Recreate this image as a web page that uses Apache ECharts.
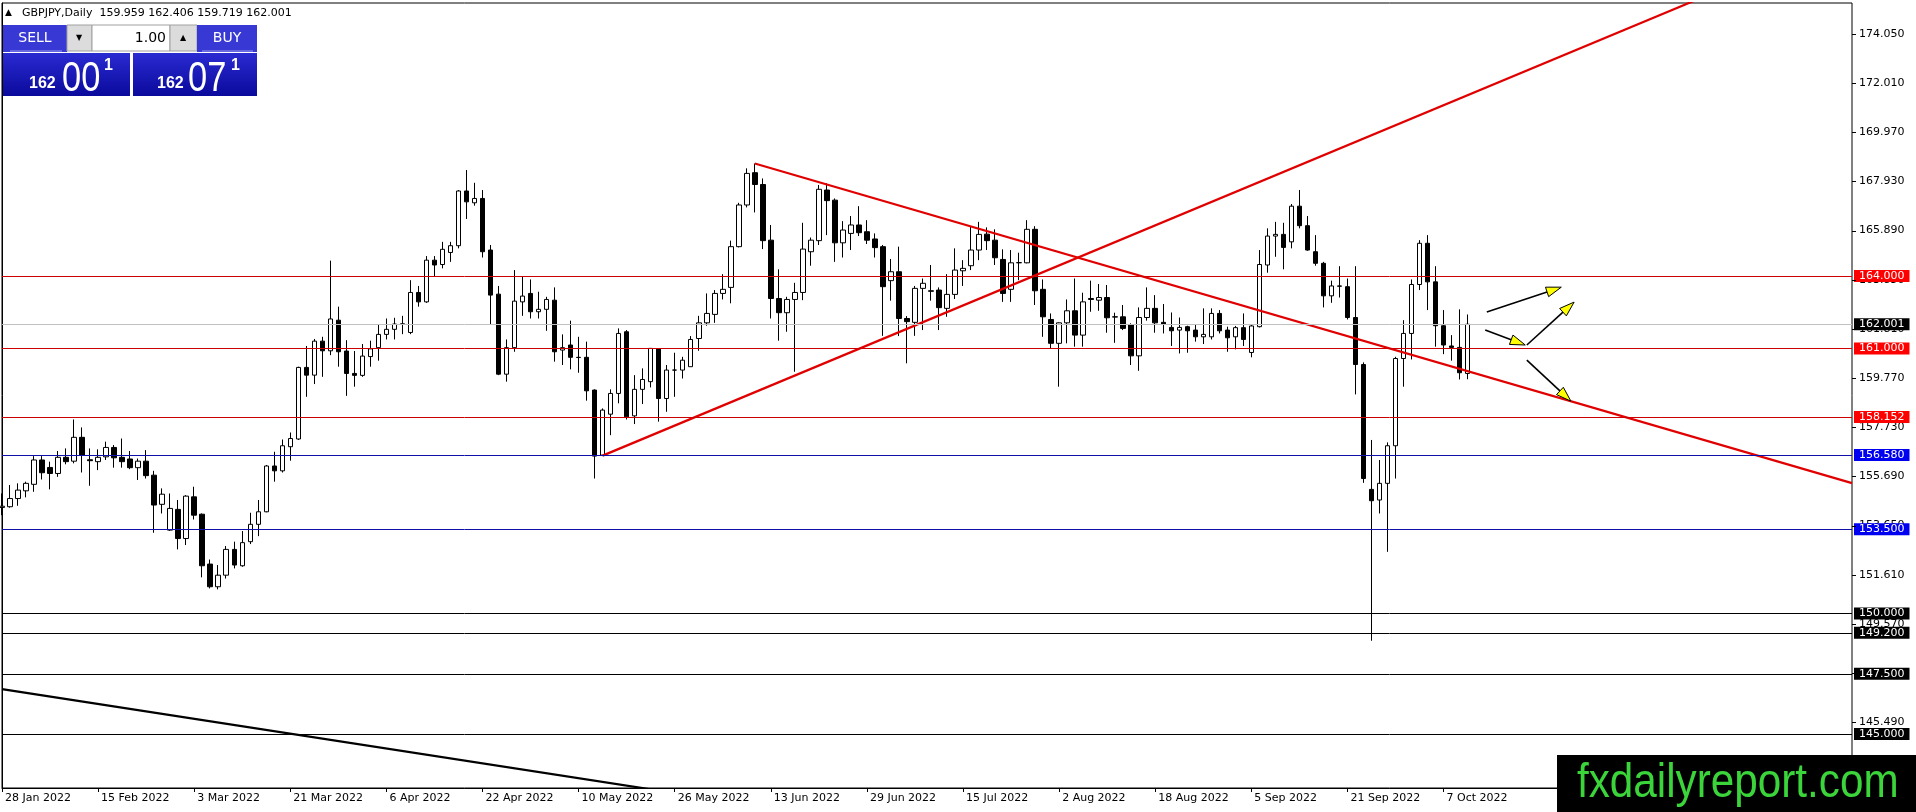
<!DOCTYPE html>
<html>
<head>
<meta charset="utf-8">
<title>GBPJPY Daily</title>
<script src="https://cdn.jsdelivr.net/npm/echarts@6/dist/echarts.min.js"></script>
<style>
  html, body { margin: 0; padding: 0; background: #fff; }
  #main { width: 1916px; height: 812px; }
</style>
</head>
<body>
<div id="main"></div>
<script>
// GBPJPY daily, one bar per weekday from 28 Jan 2022 to 12 Oct 2022
var opens = [154.40,154.43,154.77,155.09,155.36,156.37,156.06,155.81,156.48,156.32,157.31,156.38,156.30,156.50,156.89,156.48,156.41,156.05,156.32,155.74,
  154.53,153.46,154.32,153.11,154.84,154.12,152.05,151.11,151.59,152.66,151.98,152.98,153.70,154.22,156.12,155.92,156.92,157.24,160.21,159.89,
  161.30,160.90,162.17,160.89,159.96,159.88,160.66,161.03,161.58,161.79,162.00,161.66,163.32,162.93,164.66,164.48,164.98,165.26,167.53,167.04,
  167.22,165.08,163.25,159.93,161.03,162.93,163.28,162.52,162.62,163.00,160.93,161.14,160.63,160.63,159.27,156.57,158.27,159.13,161.69,158.20,
  159.30,159.62,160.97,158.92,160.10,160.10,160.24,161.41,162.06,162.41,163.28,163.53,165.22,166.95,168.29,167.80,165.49,163.07,162.48,163.03,
  163.32,165.01,165.47,167.57,167.15,165.38,165.77,166.12,165.84,165.54,165.22,163.81,164.18,162.24,162.08,163.49,163.39,163.42,162.66,163.24,
  164.22,164.43,165.08,165.74,165.49,164.69,163.45,164.55,164.55,165.94,163.45,162.20,161.21,162.06,162.56,161.55,163.07,163.00,163.11,162.31,
  162.31,161.97,160.69,162.28,162.66,162.08,161.87,161.76,161.90,161.76,161.48,161.48,162.45,161.76,161.48,161.86,160.83,161.90,164.46,165.66,
  165.73,165.42,166.90,166.09,165.01,164.53,163.18,163.59,163.56,162.28,160.33,155.15,154.71,155.40,156.96,160.58,161.62,163.65,165.36,163.76,
  161.94,161.10,161.04,159.959];
var highs = [154.98,155.33,155.40,155.47,156.53,156.53,156.30,156.74,156.85,158.05,157.72,156.85,156.81,157.13,156.99,157.26,156.74,156.43,156.78,155.92,
  155.19,154.98,154.71,154.91,155.26,154.15,152.24,152.01,152.80,152.98,153.42,154.18,154.71,156.16,156.71,157.22,157.51,160.24,161.10,161.39,
  161.48,164.64,162.73,161.34,160.89,161.18,161.32,161.97,162.24,162.27,162.35,163.83,163.59,164.83,164.83,165.42,165.42,167.57,168.40,167.87,
  167.57,165.29,163.59,161.37,164.25,163.97,163.86,163.35,163.14,163.53,161.58,162.15,161.48,161.28,159.30,158.51,159.30,161.83,161.76,159.89,
  160.17,161.00,161.00,160.31,160.82,160.65,161.51,162.35,163.28,163.42,164.08,165.47,167.04,168.47,168.67,168.05,166.12,164.28,163.14,163.72,
  166.21,165.60,167.78,167.85,167.22,166.28,166.49,166.90,166.32,165.77,165.29,164.71,165.22,162.34,163.59,163.90,164.46,163.53,164.08,165.15,
  164.66,166.05,166.25,166.02,165.94,165.11,165.08,164.97,166.32,166.07,163.86,162.45,162.08,163.03,163.90,163.31,163.81,163.67,163.63,162.48,
  162.80,162.04,162.70,163.53,163.21,162.84,162.49,162.28,161.94,161.97,162.66,162.66,162.59,161.90,161.93,162.45,161.97,165.08,165.98,166.25,
  166.21,166.99,167.57,166.49,165.70,164.59,163.81,164.41,163.90,164.41,160.42,157.20,156.37,157.10,160.65,162.17,163.86,165.49,165.70,164.41,
  162.59,161.55,162.62,162.406];
var lows = [154.08,154.39,154.47,154.82,155.05,155.56,155.15,155.67,156.19,156.23,155.85,155.30,155.95,156.37,156.05,156.05,155.99,155.54,155.60,153.35,
  154.15,153.43,152.66,152.84,153.90,151.50,151.04,151.00,151.45,151.87,151.94,152.88,153.21,154.20,155.47,155.85,156.34,157.20,158.99,159.52,
  159.82,160.72,160.24,159.03,159.41,159.82,160.24,160.49,161.37,161.37,161.59,161.59,162.73,162.89,163.97,164.32,164.59,165.15,166.37,166.92,
  164.77,162.01,159.89,159.62,160.86,162.35,162.24,162.24,161.73,160.45,160.31,160.13,159.99,158.83,155.60,156.53,157.40,158.72,158.05,157.86,
  158.69,159.38,157.96,158.37,158.99,159.75,160.24,160.90,161.94,162.06,163.03,162.87,165.19,166.85,166.64,165.12,162.24,161.32,161.69,160.03,
  163.00,164.43,165.29,165.70,164.59,164.77,165.08,165.66,165.33,164.77,161.52,162.98,161.51,160.38,161.52,161.76,162.98,161.76,162.31,163.05,
  163.59,164.25,164.66,165.08,164.46,162.93,162.93,163.83,164.53,162.80,161.48,161.00,159.41,161.21,161.07,161.07,162.52,162.56,161.65,161.23,
  161.76,160.31,160.07,162.15,161.65,161.62,161.10,160.79,160.82,161.28,161.18,161.37,161.62,160.86,160.96,161.10,160.63,161.87,164.14,164.80,
  164.28,165.15,165.98,165.05,164.43,162.70,162.89,163.11,162.20,159.09,155.42,148.87,154.15,152.56,155.60,159.41,160.54,163.42,162.59,161.07,
  160.76,160.49,159.71,159.719];
var closes = [154.45,154.77,155.12,155.40,156.37,155.84,155.81,156.48,156.30,157.31,156.57,156.34,156.48,156.89,156.46,156.30,156.05,156.32,155.72,154.50,
  154.95,154.36,153.11,154.87,154.08,151.98,151.11,151.59,152.66,152.01,152.94,153.70,154.22,156.12,155.92,156.96,157.26,160.21,159.89,161.30,
  160.90,162.22,160.86,159.96,159.88,160.68,160.98,161.58,161.79,162.01,162.02,163.32,162.93,164.66,164.46,165.11,165.26,167.53,167.08,167.22,
  165.01,163.21,159.93,161.03,162.96,163.17,162.52,162.62,163.03,160.86,161.03,160.63,160.62,159.24,156.53,158.44,159.13,161.62,158.16,159.30,
  159.71,161.00,158.92,160.10,160.10,160.51,161.37,162.06,162.45,163.28,163.45,165.22,166.95,168.26,167.80,165.47,163.07,162.48,163.03,163.32,
  165.12,165.49,167.60,167.13,165.38,165.91,166.12,165.80,165.49,165.18,163.56,164.18,162.24,162.11,163.49,163.70,163.37,162.69,163.24,164.25,
  164.32,165.08,165.73,165.47,164.76,163.28,164.55,164.56,165.94,163.39,162.31,161.21,162.06,162.56,161.55,162.93,163.03,163.11,162.27,162.30,
  161.83,160.69,162.28,162.66,162.06,161.99,161.73,161.87,161.73,161.48,161.58,162.45,161.73,161.44,161.86,161.37,161.93,164.48,165.66,165.73,
  165.19,166.90,166.09,165.08,164.53,163.18,163.59,163.58,162.28,160.33,155.60,154.68,155.40,156.96,160.58,161.62,163.65,165.36,163.76,161.94,
  161.14,161.04,159.99,162.001];

// x axis date labels, one every 12 bars
var dateLabels = ['28 Jan 2022','15 Feb 2022','3 Mar 2022','21 Mar 2022','6 Apr 2022','22 Apr 2022','10 May 2022','26 May 2022',
  '13 Jun 2022','29 Jun 2022','15 Jul 2022','2 Aug 2022','18 Aug 2022','5 Sep 2022','21 Sep 2022','7 Oct 2022'];
var labelStep = 12;
var slotCount = 232; // bars plus empty space on the right

// price scale ticks
var yTicks = [145.49,147.53,149.57,151.61,153.65,155.69,157.73,159.77,161.81,163.85,165.89,167.93,169.97,172.01,174.05];
var yMin = 142.76, yMax = 175.33;

// drawn levels
var redLevels = [164.000, 161.000, 158.152];
var blueLevels = [156.580, 153.500];
var blackLevels = [150.000, 149.200, 147.500, 145.000];
var bidPrice = 162.001;

// trend lines [bar, price]
var trendDown = [[94, 168.67], [231, 155.41]];
var trendUp = [[75, 156.55], [231, 178.15]];
var trendLow = [[0, 146.86], [100, 141.73]];

// arrows [bar, price] start -> tip
var arrows = [
  [[185.4, 162.51], [194.7, 163.54]],
  [[185.2, 161.76], [190.2, 161.14]],
  [[190.4, 161.14], [196.3, 162.92]],
  [[190.4, 160.51], [195.9, 158.81]]
];

var chart = echarts.init(document.getElementById('main'));

var cats = [];
for (var i = 0; i < slotCount; i++) cats.push(String(i));

var candles = opens.map(function (o, i) { return [o, closes[i], lows[i], highs[i]]; });

function levelItems(list, lineColor, boxColor) {
  return list.map(function (v) {
    return {
      yAxis: v,
      lineStyle: { color: lineColor, width: 1, type: 'solid' },
      label: { backgroundColor: boxColor, formatter: v.toFixed(3) }
    };
  });
}

var levels = []
  .concat(levelItems([bidPrice], '#c0c0c0', '#000'))
  .concat(levelItems(redLevels, '#cc0000', '#ff0000'))
  .concat(levelItems(blueLevels, '#1010a8', '#0000f0'))
  .concat(levelItems(blackLevels, '#000', '#000'));

function showTick(index) {
  return index % labelStep === 0 && index / labelStep < dateLabels.length;
}

var font = 'DejaVu Sans';

var option = {
  animation: false,
  backgroundColor: '#fff',
  grid: { left: 2, right: 64, top: 3, bottom: 24, show: true, borderColor: '#000', borderWidth: 1, backgroundColor: '#fff' },
  xAxis: [{
    type: 'category',
    data: cats,
    boundaryGap: false,
    axisLine: { lineStyle: { color: '#000' } },
    axisTick: { interval: showTick, length: 4, lineStyle: { color: '#000' } },
    axisLabel: {
      interval: showTick,
      align: 'left',
      margin: 5,
      padding: [0, 0, 0, 3],
      color: '#000',
      fontSize: 11,
      fontFamily: font,
      formatter: function (val, idx) { return dateLabels[idx / labelStep] || ''; }
    },
    splitLine: { show: false }
  }, {
    type: 'value',
    min: 0,
    max: slotCount - 1,
    show: false,
    splitLine: { show: false }
  }],
  yAxis: {
    type: 'value',
    position: 'right',
    min: yMin,
    max: yMax,
    axisLine: { show: true, lineStyle: { color: '#000' } },
    axisTick: { show: false },
    axisLabel: {
      customValues: yTicks,
      margin: 7,
      color: '#000',
      fontSize: 11,
      fontFamily: font,
      formatter: function (v) { return v.toFixed(3); }
    },
    splitLine: { show: false }
  },
  series: [{
    type: 'candlestick',
    data: candles,
    barWidth: 5,
    clip: true,
    itemStyle: { color: '#fff', color0: '#000', borderColor: '#000', borderColor0: '#000', borderWidth: 1 },
    markLine: {
      silent: true,
      symbol: 'none',
      data: levels,
      label: {
        position: 'end',
        distance: 2,
        color: '#fff',
        fontSize: 11,
        fontFamily: font,
        padding: [1, 5, 0, 5]
      }
    }
  }, {
    type: 'line', xAxisIndex: 1, data: trendDown, symbol: 'none', silent: true, clip: true, z: 3,
    lineStyle: { color: '#e00000', width: 2.2 }
  }, {
    type: 'line', xAxisIndex: 1, data: trendUp, symbol: 'none', silent: true, clip: true, z: 3,
    lineStyle: { color: '#e00000', width: 2.2 }
  }, {
    type: 'line', xAxisIndex: 1, data: trendLow, symbol: 'none', silent: true, clip: true, z: 3,
    lineStyle: { color: '#000', width: 2.2 }
  }]
};

chart.setOption(option);

function px(pt) {
  return chart.convertToPixel({ xAxisIndex: 1, yAxisIndex: 0 }, pt);
}

// arrows, placed through the chart's own scales
function arrowShapes(a) {
  var p0 = px(a[0]);
  var p1 = px(a[1]);
  var dx = p1[0] - p0[0], dy = p1[1] - p0[1];
  var len = Math.sqrt(dx * dx + dy * dy);
  var ux = dx / len, uy = dy / len;
  var hl = 15, hw = 5;
  var bx = p1[0] - ux * hl, by = p1[1] - uy * hl;
  return [{
    type: 'line', z: 50, silent: true,
    shape: { x1: p0[0], y1: p0[1], x2: bx, y2: by },
    style: { stroke: '#000', lineWidth: 1.6 }
  }, {
    type: 'polygon', z: 51, silent: true,
    shape: { points: [[p1[0], p1[1]], [bx - uy * hw, by + ux * hw], [bx + uy * hw, by - ux * hw]] },
    style: { fill: '#ffff00', stroke: '#000', lineWidth: 1 }
  }];
}

// price scale tick marks
function tickShapes() {
  return yTicks.map(function (v) {
    var p = px([slotCount - 1, v]);
    return {
      type: 'line', z: 10, silent: true,
      shape: { x1: p[0], y1: Math.round(p[1]) + 0.5, x2: p[0] + 4, y2: Math.round(p[1]) + 0.5 },
      style: { stroke: '#000', lineWidth: 1 }
    };
  });
}

function txt(x, y, s, size, color, opt) {
  opt = opt || {};
  var el = {
    type: 'text', x: x, y: y, z: 101, silent: true,
    style: {
      text: s, fill: color,
      fontSize: size,
      fontFamily: opt.family || 'Liberation Sans',
      fontWeight: opt.bold ? 'bold' : 'normal',
      textAlign: opt.align || 'left', textVerticalAlign: 'middle',
      align: opt.align || 'left', verticalAlign: 'middle'
    }
  };
  if (opt.scaleX) { el.scaleX = opt.scaleX; }
  return el;
}

function grad(top, bottom) {
  return new echarts.graphic.LinearGradient(0, 0, 0, 1, [{ offset: 0, color: top }, { offset: 1, color: bottom }]);
}

var graphics = [
  // header line
  txt(5, 13, '▲', 9, '#000', { family: font }),
  txt(22, 13, 'GBPJPY,Daily  159.959 162.406 159.719 162.001', 11, '#000', { family: font }),
  // one click trading panel
  { type: 'rect', z: 100, silent: true, shape: { x: 3, y: 25, width: 64, height: 27 }, style: { fill: '#3838d4' } },
  { type: 'rect', z: 100, silent: true, shape: { x: 67, y: 25, width: 25, height: 26 }, style: { fill: '#dcdcdc', stroke: '#a0a0a0' } },
  { type: 'rect', z: 100, silent: true, shape: { x: 92, y: 25, width: 78, height: 26 }, style: { fill: '#fff', stroke: '#a0a0a0' } },
  { type: 'rect', z: 100, silent: true, shape: { x: 170, y: 25, width: 27, height: 26 }, style: { fill: '#dcdcdc', stroke: '#a0a0a0' } },
  { type: 'rect', z: 100, silent: true, shape: { x: 197, y: 25, width: 60, height: 27 }, style: { fill: '#3838d4' } },
  { type: 'line', z: 101, silent: true, shape: { x1: 10, y1: 51, x2: 62, y2: 51 }, style: { stroke: '#9a9af0', lineWidth: 1 } },
  { type: 'line', z: 101, silent: true, shape: { x1: 202, y1: 51, x2: 253, y2: 51 }, style: { stroke: '#9a9af0', lineWidth: 1 } },
  { type: 'rect', z: 100, silent: true, shape: { x: 3, y: 53, width: 127, height: 43 }, style: { fill: grad('#2a2ad2', '#0a0a9c') } },
  { type: 'rect', z: 100, silent: true, shape: { x: 133, y: 53, width: 124, height: 43 }, style: { fill: grad('#2a2ad2', '#0a0a9c') } },
  txt(35, 38, 'SELL', 14, '#fff', { family: font, align: 'center' }),
  txt(79, 38, '▼', 8, '#000', { family: font, align: 'center' }),
  txt(166, 38, '1.00', 14, '#000', { family: font, align: 'right' }),
  txt(183, 38, '▲', 8, '#000', { family: font, align: 'center' }),
  txt(227, 38, 'BUY', 14, '#fff', { family: font, align: 'center' }),
  txt(29, 84, '162', 16, '#fff', { bold: true }),
  txt(62, 79, '00', 42, '#fff', { scaleX: 0.82 }),
  txt(104, 66, '1', 16, '#fff', { bold: true }),
  txt(157, 84, '162', 16, '#fff', { bold: true }),
  txt(188, 79, '07', 42, '#fff', { scaleX: 0.82 }),
  txt(231, 66, '1', 16, '#fff', { bold: true }),
  // watermark
  { type: 'rect', z: 100, silent: true, shape: { x: 1557, y: 755, width: 359, height: 57 }, style: { fill: '#000' } },
  txt(1577, 784, 'fxdailyreport.com', 48, '#3bd43b', { scaleX: 0.88 })
];

graphics = graphics.concat(tickShapes());
arrows.forEach(function (a) { graphics = graphics.concat(arrowShapes(a)); });

chart.setOption({ graphic: graphics });
</script>
</body>
</html>
